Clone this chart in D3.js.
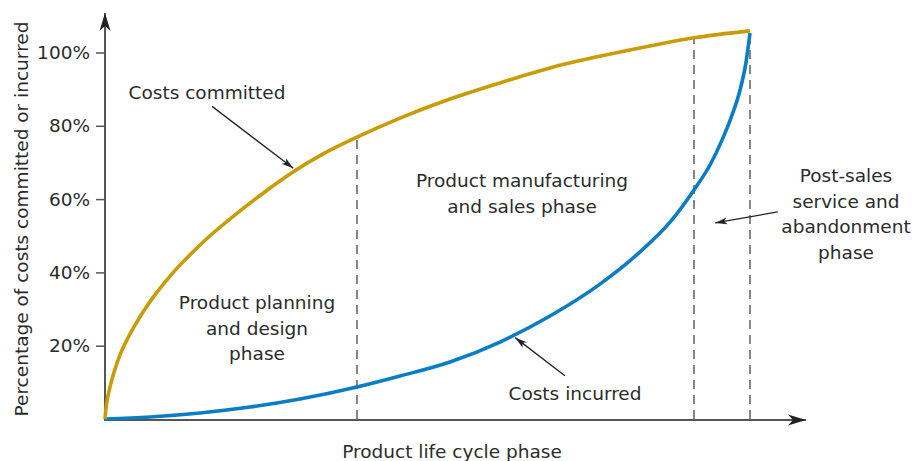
<!DOCTYPE html>
<html>
<head>
<meta charset="utf-8">
<script src="https://cdn.jsdelivr.net/npm/d3@7"></script>
<style>
  body { margin: 0; background: #fff; }
  text { font-family: "DejaVu Sans", sans-serif; fill: #2b2b2b; }
</style>
</head>
<body>
<div id="chart"></div>
<script>
// life cycle position (0-100) vs cumulative % of costs
const committedX = [0, 0.155, 0.465, 0.93, 1.55, 2.33, 3.41, 4.65, 6.2, 8.06, 10.39, 13.18, 16.28, 20.16, 24.34, 29.15, 34.1, 39.07, 45.74, 53.49, 61.24, 68.99, 76.74, 84.5, 91.32, 100];
const committedY = [0, 3.0, 6.3, 9.8, 13.6, 17.5, 21.6, 25.6, 30.0, 34.6, 39.6, 44.8, 50.0, 55.7, 61.4, 67.4, 72.6, 76.9, 82.1, 87.3, 91.7, 95.8, 99.0, 101.8, 104.0, 105.9];

const incurredX = [0, 6.98, 14.73, 22.48, 30.23, 39.07, 45.74, 53.49, 61.24, 68.99, 76.74, 82.95, 87.6, 91.32, 93.8, 95.66, 97.21, 98.45, 99.38, 100];
const incurredY = [0, 0.55, 1.64, 3.27, 5.46, 8.73, 11.73, 15.55, 21.0, 28.1, 36.8, 45.6, 53.7, 62.5, 69.3, 76.1, 82.9, 89.7, 97.3, 105.3];

const phaseBounds = [39.07, 91.32, 100];
const yTicks = [20, 40, 60, 80, 100];

const width = 917;
const height = 461;

const x = d3.scaleLinear().domain([0, 100]).range([105, 750]);
const y = d3.scaleLinear().domain([0, 100]).range([419, 52.5]);

const svg = d3.select("#chart")
    .append("svg")
    .attr("width", width)
    .attr("height", height);

const defs = svg.append("defs");
defs.append("marker")
    .attr("id", "axisArrow")
    .attr("viewBox", "0 -6 18 12")
    .attr("refX", 18)
    .attr("refY", 0)
    .attr("markerWidth", 18)
    .attr("markerHeight", 12)
    .attr("markerUnits", "userSpaceOnUse")
    .attr("orient", "auto")
    .append("path")
    .attr("d", "M0,-5.5L18,0L0,5.5L5,0Z")
    .attr("fill", "#222");

defs.append("marker")
    .attr("id", "noteArrow")
    .attr("viewBox", "0 -4 12 8")
    .attr("refX", 12)
    .attr("refY", 0)
    .attr("markerWidth", 12)
    .attr("markerHeight", 8)
    .attr("markerUnits", "userSpaceOnUse")
    .attr("orient", "auto")
    .append("path")
    .attr("d", "M0,-3.5L12,0L0,3.5L3,0Z")
    .attr("fill", "#222");

// phase separators
const committedAt = d3.scaleLinear().domain(committedX).range(committedY);
svg.append("g")
    .selectAll("line")
    .data(phaseBounds)
    .join("line")
    .attr("x1", d => x(d))
    .attr("x2", d => x(d))
    .attr("y1", y(0))
    .attr("y2", d => y(committedAt(d)))
    .attr("stroke", "#555")
    .attr("stroke-width", 1.4)
    .attr("stroke-dasharray", "9,6");

// axes
const yAxis = d3.axisLeft(y)
    .tickValues(yTicks)
    .tickFormat(d => d + "%")
    .tickSize(9)
    .tickPadding(6);

const gy = svg.append("g")
    .attr("transform", `translate(${x(0)},0)`)
    .call(yAxis);
gy.select(".domain").remove();
gy.selectAll(".tick line").attr("stroke", "#555").attr("stroke-width", 1.5);
gy.selectAll(".tick text")
    .attr("font-size", 18.5)
    .attr("font-family", "DejaVu Sans, sans-serif")
    .attr("fill", "#2b2b2b");

svg.append("line")
    .attr("x1", x(0)).attr("x2", x(0))
    .attr("y1", y(0) + 1).attr("y2", 13)
    .attr("stroke", "#555")
    .attr("stroke-width", 2)
    .attr("marker-end", "url(#axisArrow)");

svg.append("line")
    .attr("x1", x(0) - 1).attr("x2", 806)
    .attr("y1", y(0) + 1).attr("y2", y(0) + 1)
    .attr("stroke", "#555")
    .attr("stroke-width", 2)
    .attr("marker-end", "url(#axisArrow)");

// curves
const line = d3.line()
    .x(d => x(d[0]))
    .y(d => y(d[1]))
    .curve(d3.curveMonotoneX);

svg.append("path")
    .datum(d3.zip(incurredX, incurredY))
    .attr("d", line)
    .attr("fill", "none")
    .attr("stroke", "#0a7dc4")
    .attr("stroke-width", 3.6);

svg.append("path")
    .datum(d3.zip(committedX, committedY))
    .attr("d", line)
    .attr("fill", "none")
    .attr("stroke", "#c99c06")
    .attr("stroke-width", 3.6);

// annotation arrows (data units)
const arrows = [
    { from: [16.6, 85.3], to: [29.2, 68.4] },
    { from: [71.3, 11.8], to: [63.6, 22.2] },
    { from: [104.3, 56.5], to: [94.6, 53.5] }
];
svg.append("g")
    .selectAll("line")
    .data(arrows)
    .join("line")
    .attr("x1", d => x(d.from[0]))
    .attr("y1", d => y(d.from[1]))
    .attr("x2", d => x(d.to[0]))
    .attr("y2", d => y(d.to[1]))
    .attr("stroke", "#222")
    .attr("stroke-width", 1.3)
    .attr("marker-end", "url(#noteArrow)");

// labels
const labels = [
    { lines: ["Costs committed"], cx: 207, y0: 99 },
    { lines: ["Product planning", "and design", "phase"], cx: 257, y0: 309 },
    { lines: ["Product manufacturing", "and sales phase"], cx: 522, y0: 187 },
    { lines: ["Costs incurred"], cx: 575, y0: 400 },
    { lines: ["Post-sales", "service and", "abandonment", "phase"], cx: 846, y0: 182 }
];

labels.forEach(l => {
    const t = svg.append("text")
        .attr("text-anchor", "middle")
        .attr("font-size", 18.5);
    l.lines.forEach((s, i) => {
        t.append("tspan")
            .attr("x", l.cx)
            .attr("y", l.y0 + i * 25.5)
            .text(s);
    });
});

svg.append("text")
    .attr("x", 452)
    .attr("y", 458)
    .attr("text-anchor", "middle")
    .attr("font-size", 18.5)
    .text("Product life cycle phase");

svg.append("text")
    .attr("transform", "translate(28,219) rotate(-90)")
    .attr("text-anchor", "middle")
    .attr("font-size", 18.5)
    .text("Percentage of costs committed or incurred");
</script>
</body>
</html>
